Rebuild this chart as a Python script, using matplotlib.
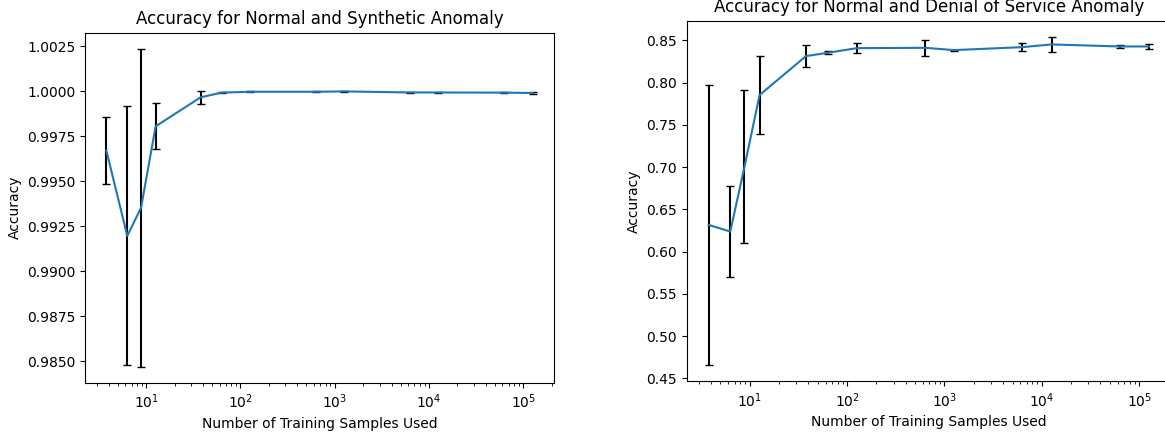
import matplotlib
matplotlib.use("Agg")
import matplotlib.pyplot as plt

# Training sample counts (fractions of a 125973-sample training set)
train_samples = [3.78, 6.3, 8.82, 12.6, 37.8, 63, 126, 630, 1260, 6299, 12597, 62987, 125973]

# Synthetic anomaly: mean accuracy and std
syn_mean = [0.99671, 0.99196, 0.99353, 0.99806, 0.99967, 0.99993, 0.99998,
            0.99998, 1.00000, 0.99994, 0.99994, 0.99993, 0.99991]
syn_std = [0.00185, 0.00720, 0.00885, 0.00128, 0.00035, 0.00001, 0.00003,
           0.00003, 0.00001, 0.00004, 0.00003, 0.00003, 0.00006]

# Denial of Service anomaly: mean accuracy and std
dos_mean = [0.6317, 0.6238, 0.7005, 0.7854, 0.8315, 0.8354, 0.8409,
            0.8413, 0.8386, 0.8421, 0.8453, 0.8429, 0.8429]
dos_std = [0.1657, 0.0540, 0.0905, 0.0463, 0.0126, 0.0020, 0.0062,
           0.0095, 0.0005, 0.0048, 0.0087, 0.0020, 0.0034]

fig = plt.figure(figsize=(11.65, 4.32), dpi=100)
ax1 = fig.add_axes([0.0730, 0.1141, 0.4026, 0.8102])
ax2 = fig.add_axes([0.5894, 0.1174, 0.4157, 0.8347])

for ax, mean, std, title in [
    (ax1, syn_mean, syn_std, "Accuracy for Normal and Synthetic Anomaly"),
    (ax2, dos_mean, dos_std, "Accuracy for Normal and Denial of Service Anomaly"),
]:
    ax.errorbar(train_samples, mean, yerr=std, ecolor="black", capsize=3, color="C0")
    ax.set_xscale("log")
    ax.set_title(title)
    ax.set_xlabel("Number of Training Samples Used")
    ax.set_ylabel("Accuracy")

ax1.ticklabel_format(axis="y", useOffset=False)

fig.savefig("out.png", dpi=100)
